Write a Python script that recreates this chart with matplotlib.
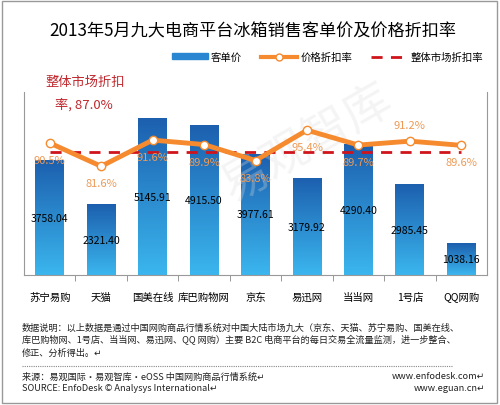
import numpy as np
import matplotlib.pyplot as plt
from matplotlib.colors import LinearSegmentedColormap
from matplotlib.lines import Line2D
from matplotlib.patches import Patch, Rectangle

plt.rcParams['font.family'] = ['Noto Sans CJK SC', 'DejaVu Sans']

# data
platforms = ['苏宁易购', '天猫', '国美在线', '库巴购物网', '京东', '易迅网', '当当网', '1号店', 'QQ网购']
avg_price = [3758.04, 2321.40, 5145.91, 4915.50, 3977.61, 3179.92, 4290.40, 2985.45, 1038.16]
discount = [90.5, 81.6, 91.6, 89.9, 83.8, 95.4, 89.7, 91.2, 89.6]
market_discount = 87.0
label_above = [False, False, False, False, False, False, False, True, False]

fig = plt.figure(figsize=(5, 4.06), dpi=100)
ax = fig.add_axes([0.048, 0.32, 0.926, 0.451])
x = np.arange(len(platforms))

# bars with vertical gradient
cmap = LinearSegmentedColormap.from_list('bl', ['#3bb6ee', '#1c5fae'])
grad = np.linspace(0, 1, 256).reshape(-1, 1)
bars = ax.bar(x, avg_price, width=0.56, color='none', edgecolor='none', zorder=2)
for b in bars:
    x0, w, h = b.get_x(), b.get_width(), b.get_height()
    im = ax.imshow(grad, extent=[x0, x0 + w, 0, h], origin='lower', aspect='auto',
                   cmap=cmap, zorder=2)
    im.set_clip_path(b)
for xi, v in zip(x, avg_price):
    ax.text(xi, v / 2, f'{v:.2f}', ha='center', va='center', fontsize=7.5,
            color='black', zorder=5)

ax.set_xlim(-0.5, len(platforms) - 0.5)
ax.set_ylim(0, 6000)
ax.set_yticks([])
ax.set_xticks(x)
ax.set_xticklabels(platforms, fontsize=7.5)
ax.tick_params(axis='x', which='major', length=0, pad=12)
ax.set_xticks(np.arange(-0.5, len(platforms), 1)[1:-1], minor=True)
ax.tick_params(axis='x', which='minor', length=4, color='#888888', direction='out')
ax.spines['top'].set_visible(False)
for s in ['left', 'right', 'bottom']:
    ax.spines[s].set_color('#999999')

# faint watermark
ax.text(5.0, 4300, '易观智库', fontsize=34, color='#dddddd', alpha=0.3, rotation=30,
        ha='center', va='center', zorder=3)

ax2 = ax.twinx()
ax2.set_ylim(40, 110)
ax2.set_yticks([])
for s in ax2.spines.values():
    s.set_visible(False)
ax2.plot(x, [market_discount] * len(x), color='#d0141c', lw=2, ls=(0, (4, 3)), zorder=3)
ax2.plot(x, discount, color='#f58a2e', lw=3.5, marker='o', markersize=6,
         markerfacecolor='white', markeredgecolor='#f58a2e', markeredgewidth=1, zorder=4)
for xi, v, up in zip(x, discount, label_above):
    ax2.text(xi, v + (6.2 if up else -6.5), f'{v:.1f}%', ha='center', va='center',
             fontsize=8, color='#ee9a55', zorder=5)

fig.text(0.505, 1 - 32 / 406, '2013年5月九大电商平台冰箱销售客单价及价格折扣率',
         ha='center', va='center', fontsize=12.3)
fig.text(0.09, 1 - 82 / 406, '整体市场折扣', color='#c0282e', fontsize=9.5, va='center')
fig.text(0.11, 1 - 105 / 406, '率, 87.0%', color='#c0282e', fontsize=9.5, va='center')

handles = [Patch(color='#2a86d0'),
           Line2D([], [], color='#f58a2e', lw=3, marker='o', markersize=5,
                  markerfacecolor='white', markeredgecolor='#f58a2e'),
           Line2D([], [], color='#d0141c', lw=2, ls=(0, (4, 3)))]
fig.legend(handles, ['客单价', '价格折扣率', '整体市场折扣率'], ncol=3, frameon=False,
           loc='center', bbox_to_anchor=(0.655, 1 - 58 / 406), fontsize=7.5,
           handlelength=3.5, handleheight=0.5, columnspacing=1.8, handletextpad=0.3)

notes = ['数据说明：以上数据是通过中国网购商品行情系统对中国大陆市场九大（京东、天猫、苏宁易购、国美在线、',
         '库巴购物网、1号店、当当网、易迅网、QQ 网购）主要 B2C 电商平台的每日交易全流量监测，进一步整合、',
         '修正、分析得出。↵']
for i, t in enumerate(notes):
    fig.text(0.044, 1 - (328 + 12.5 * i) / 406, t, fontsize=6.6, va='center', color='#222222')
fig.add_artist(Line2D([0.044, 0.905], [1 - 367 / 406] * 2, color='#888888', lw=0.8,
                      ls=(0, (1, 1))))
fig.text(0.044, 1 - 377 / 406, '来源：易观国际·易观智库·eOSS 中国网购商品行情系统↵',
         fontsize=6.6, va='center', color='#222222')
fig.text(0.044, 1 - 389 / 406, 'SOURCE: EnfoDesk © Analysys International↵',
         fontsize=6.6, va='center', color='#222222')
fig.text(0.97, 1 - 377 / 406, 'www.enfodesk.com↵', fontsize=6.6, va='center',
         ha='right', color='#222222')
fig.text(0.97, 1 - 389 / 406, 'www.eguan.cn↵', fontsize=6.6, va='center',
         ha='right', color='#222222')

fig.add_artist(Rectangle((0.004, 0.005), 0.99, 0.99, transform=fig.transFigure,
                         fill=False, edgecolor='#999999', lw=1))

fig.savefig('out.png', dpi=100)
